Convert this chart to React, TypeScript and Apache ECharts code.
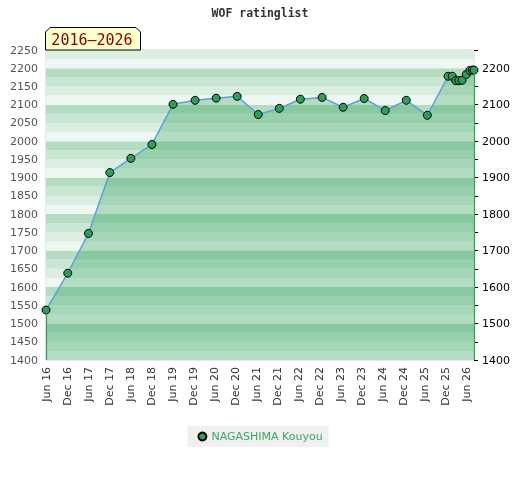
import React, { useEffect, useRef } from "react";
import * as echarts from "echarts";

// months since Jun 2016
const pointMonths = [0, 6.2, 12.1, 18.2, 24.2, 30.2, 36.2, 42.5, 48.5, 54.5, 60.5, 66.5, 72.5, 78.7, 84.7, 90.7, 96.7, 102.7, 108.7, 114.6, 115.8, 116.8, 117.7, 118.6, 119.8, 120.8, 121.5, 122];
const ratings = [1537, 1638, 1747, 1914, 1953, 1991, 2101, 2112, 2118, 2123, 2073, 2090, 2115, 2120, 2093, 2117, 2084, 2112, 2071, 2178, 2178, 2166, 2166, 2167, 2183, 2194, 2195, 2195];
const xTickLabels = [
  "Jun 16", "Dec 16", "Jun 17", "Dec 17", "Jun 18", "Dec 18", "Jun 19", "Dec 19",
  "Jun 20", "Dec 20", "Jun 21", "Dec 21", "Jun 22", "Dec 22", "Jun 23", "Dec 23",
  "Jun 24", "Dec 24", "Jun 25", "Dec 25", "Jun 26",
];
const playerName = "NAGASHIMA Kouyou";
const periodLabel = "2016\u20132026";
const chartTitle = "WOF ratinglist";
const yMin = 1400;
const yMax = 2250;
const xMax = 122;

const stripeColors = ["#eff7f2", "#dbeee2", "#c8e6d2", "#b3dcc0"];

export default function App() {
  const ref = useRef<HTMLDivElement>(null);
  useEffect(() => {
    if (!ref.current) return;
    const chart = echarts.init(ref.current, null, { renderer: "svg" });
    const data = pointMonths.map((m, i) => [m, ratings[i]]);
    const stripes: any[] = [];
    for (let v = yMin; v < yMax; v += 25) {
      const idx = (v % 100) / 25;
      stripes.push([{ yAxis: v, itemStyle: { color: stripeColors[idx] } }, { yAxis: v + 25 }]);
    }
    const first = data[0];
    const last = data[data.length - 1];
    chart.setOption({
      animation: false,
      title: {
        text: chartTitle,
        left: "center",
        top: 2,
        textStyle: { fontFamily: "DejaVu Sans Mono", fontWeight: "bold", fontSize: 11.5, color: "#333" },
      },
      grid: { left: 46, right: 46, top: 50, bottom: 120, show: true, borderColor: "#d0d0d0", borderWidth: 1, backgroundColor: "transparent" },
      legend: {
        data: [playerName],
        top: 426,
        left: "center",
        icon: "circle",
        itemWidth: 8,
        itemHeight: 8,
        itemGap: 10,
        backgroundColor: "#f0f0f0",
        padding: [5, 6, 5, 10],
        borderRadius: 0,
        textStyle: { color: "#3aa860", fontFamily: "DejaVu Sans", fontSize: 11 },
      },
      xAxis: {
        type: "value",
        min: 0,
        max: xMax,
        interval: 6,
        axisLine: { show: false },
        axisTick: { show: false },
        splitLine: { show: false },
        axisLabel: {
          rotate: 90,
          margin: 7,
          color: "#333",
          fontFamily: "DejaVu Sans",
          fontSize: 11,
          showMaxLabel: false,
          formatter: (v: number) => (v % 6 === 0 ? xTickLabels[v / 6] ?? "" : ""),
        },
      },
      yAxis: [
        {
          type: "value",
          min: yMin,
          max: yMax,
          interval: 50,
          axisLine: { show: false },
          axisTick: { show: false },
          splitLine: { show: false },
          axisLabel: { color: "#555", fontFamily: "DejaVu Sans", fontSize: 11, margin: 8, formatter: (v: number) => String(v) },
        },
        {
          type: "value",
          min: yMin,
          max: yMax,
          interval: 50,
          position: "right",
          axisLine: { show: false },
          axisTick: { show: true, length: 4, lineStyle: { color: "#000" } },
          splitLine: { show: false },
          axisLabel: {
            color: "#000",
            fontFamily: "DejaVu Sans",
            fontSize: 11,
            margin: 8,
            formatter: (v: number) => (v % 100 === 0 && v < yMax ? String(v) : ""),
          },
        },
      ],
      series: [
        {
          type: "line",
          name: "stripes",
          data: [],
          z: 1,
          silent: true,
          markArea: { silent: true, data: stripes },
        },
        {
          type: "line",
          name: playerName,
          data,
          z: 3,
          symbol: "circle",
          symbolSize: 8,
          lineStyle: { color: "#5aa3d8", width: 1.5 },
          itemStyle: { color: "#2f9e5a", borderColor: "#000", borderWidth: 1 },
          areaStyle: { color: "rgba(37,158,82,0.42)", origin: "start" },
          markLine: {
            silent: true,
            symbol: "none",
            label: { show: false },
            lineStyle: { color: "#3a9a5a", width: 1.2, type: "solid" },
            data: [
              [{ coord: [first[0], first[1]] }, { coord: [first[0], yMin] }],
              [{ coord: [last[0], last[1]] }, { coord: [last[0], yMin] }],
            ],
          },
        },
      ],
      graphic: [
        {
          type: "polygon",
          z: 100,
          shape: { points: [[45.5, 50], [45.5, 32], [50, 27.5], [136, 27.5], [140.5, 32], [140.5, 50]] },
          style: { fill: "#ffffcc", stroke: "#000", lineWidth: 1 },
        },
        {
          type: "text",
          z: 101,
          x: 92,
          y: 40,
          style: {
            text: periodLabel,
            fill: "#8b0000",
            font: "15px 'DejaVu Sans Mono'",
            textAlign: "center",
            textVerticalAlign: "middle",
          },
        },
      ],
    });
    return () => chart.dispose();
  }, []);
  return <div ref={ref} style={{ position: "fixed", left: 0, top: 0, width: 520, height: 480 }} />;
}
